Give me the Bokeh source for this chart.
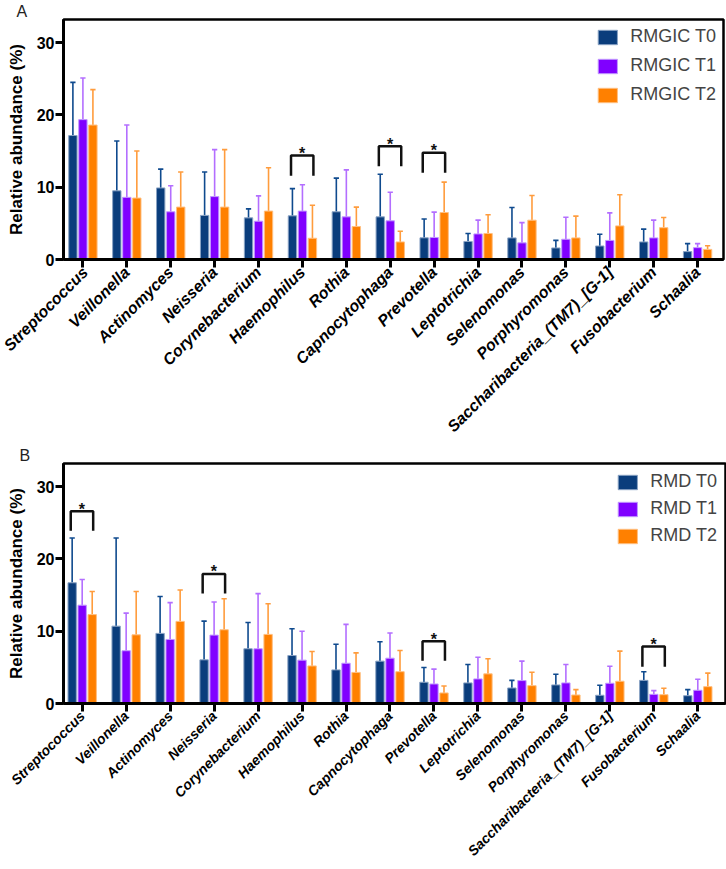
import numpy as np
from bokeh.plotting import figure
from bokeh.models import Range1d, FixedTicker, Legend, LegendItem
from bokeh.layouts import column
from bokeh.embed import file_html
from bokeh.resources import INLINE
from bokeh.core.properties import value

genera = ["Streptococcus", "Veillonella", "Actinomyces", "Neisseria", "Corynebacterium",
          "Haemophilus", "Rothia", "Capnocytophaga", "Prevotella", "Leptotrichia",
          "Selenomonas", "Porphyromonas", "Saccharibacteria_(TM7)_[G-1]", "Fusobacterium", "Schaalia"]

# Panel A (RMGIC) means and SD (upper error bar)
a_t0 = [17.15, 9.5, 9.9, 6.1, 5.76, 6.04, 6.6, 5.9, 3.0, 2.5, 2.99, 1.6, 1.87, 2.43, 1.09]
a_t1 = [19.35, 8.6, 6.6, 8.7, 5.3, 6.7, 5.9, 5.35, 3.05, 3.54, 2.3, 2.8, 2.64, 2.99, 1.64]
a_t2 = [18.6, 8.5, 7.25, 7.25, 6.7, 2.94, 4.56, 2.43, 6.5, 3.6, 5.44, 2.99, 4.65, 4.4, 1.4]
a_t0_sd = [7.35, 6.9, 2.6, 6.0, 1.24, 3.76, 4.65, 5.9, 2.6, 1.1, 4.21, 1.04, 1.63, 1.77, 1.11]
a_t1_sd = [5.75, 10.0, 3.6, 6.5, 3.5, 3.65, 6.5, 3.95, 3.5, 1.9, 2.8, 3.05, 3.81, 2.45, 0.56]
a_t2_sd = [4.9, 6.5, 4.85, 7.95, 6.0, 4.56, 2.69, 1.47, 4.2, 2.6, 3.41, 3.01, 4.31, 1.4, 0.5]

# Panel B (RMD)
b_t0 = [16.7, 10.7, 9.7, 6.04, 7.57, 6.64, 4.65, 5.86, 2.94, 2.85, 2.15, 2.57, 1.14, 3.2, 1.08]
b_t1 = [13.6, 7.3, 8.86, 9.46, 7.57, 6.0, 5.57, 6.27, 2.7, 3.4, 3.17, 2.85, 2.8, 1.27, 1.83]
b_t2 = [12.3, 9.5, 11.36, 10.2, 9.56, 5.2, 4.3, 4.4, 1.46, 4.1, 2.47, 1.18, 3.08, 1.22, 2.33]
b_t0_sd = [6.2, 12.2, 5.1, 5.36, 3.63, 3.71, 3.55, 2.68, 2.04, 2.55, 1.05, 1.48, 1.39, 1.2, 0.84]
b_t1_sd = [3.55, 5.2, 5.1, 4.59, 7.63, 4.0, 5.38, 3.48, 2.05, 3.0, 2.69, 2.55, 2.36, 0.51, 1.53]
b_t2_sd = [3.2, 6.0, 4.34, 4.3, 4.24, 2.0, 2.7, 2.93, 0.97, 2.1, 1.86, 0.74, 4.17, 0.88, 1.87]

# significance brackets: category index, bracket top, leg bottom
a_sig_cat = [5, 7, 8]
a_sig_top = [14.4, 15.66, 14.75]
a_sig_bot = [11.6, 12.9, 12.0]
b_sig_cat = [0, 3, 8, 13]
b_sig_top = [26.6, 17.9, 8.6, 7.9]
b_sig_bot = [23.9, 15.2, 5.9, 5.07]

a_labels = ["RMGIC T0", "RMGIC T1", "RMGIC T2"]
b_labels = ["RMD T0", "RMD T1", "RMD T2"]

FILL = ["#0a3d7c", "#8000ff", "#ff8000"]
EDGE = ["#8aa3c4", "#c199ff", "#ffbf80"]
ERR = ["#0f4a8e", "#b36eff", "#ff9c3d"]
FONT = "Liberation Sans"


def make_panel(letter, labels, means, sds, sig_cat, sig_top, sig_bot, border_left, frame_w,
               x_lo, x_hi, bottom_border, label_size, legend_spacing, legend_margin):
    p = figure(frame_width=frame_w, frame_height=240, output_backend="svg", toolbar_location=None,
               x_range=Range1d(x_lo, x_hi), y_range=Range1d(0, 33.2),
               min_border_left=border_left, min_border_right=726 - border_left - frame_w,
               min_border_top=0, min_border_bottom=bottom_border)
    p.title.text = letter
    p.title.align = "left"
    p.title.offset = 16 - border_left
    p.title.standoff = 0
    p.title.text_font = FONT
    p.title.text_font_size = "16px"
    p.title.text_font_style = "normal"
    p.title.text_color = "#222222"

    p.xgrid.visible = False
    p.ygrid.visible = False
    p.outline_line_color = "black"
    p.outline_line_width = 2.5
    p.background_fill_color = "white"

    offsets = [-0.228, 0.0, 0.228]
    items = []
    for k in range(3):
        xs = [i + offsets[k] for i in range(len(genera))]
        tops = [m + s for m, s in zip(means[k], sds[k])]
        p.segment(x0=xs, y0=means[k], x1=xs, y1=tops, line_color=ERR[k], line_width=1.6)
        p.segment(x0=[x - 0.06 for x in xs], y0=tops, x1=[x + 0.06 for x in xs], y1=tops,
                  line_color=ERR[k], line_width=1.6)
        r = p.vbar(x=xs, top=means[k], bottom=0, width=0.19, fill_color=FILL[k],
                   line_color=EDGE[k], line_width=1)
        items.append(LegendItem(label=labels[k], renderers=[r]))

    bx, by = [], []
    for c, t, b in zip(sig_cat, sig_top, sig_bot):
        bx.append([c - 0.26, c - 0.26, c + 0.25, c + 0.25])
        by.append([b, t, t, b])
    p.multi_line(xs=bx, ys=by, line_color="#111111", line_width=2.5)
    p.text(x=[c - 0.005 for c in sig_cat], y=[t + 0.3 for t in sig_top], text=["*"] * len(sig_cat),
           text_align="center", text_baseline="alphabetic", text_font=value(FONT),
           text_font_size="16px", text_font_style="bold", text_color="#111111")

    legend = Legend(items=items, location="top_right", margin=legend_margin, padding=5,
                    spacing=legend_spacing, glyph_width=24, glyph_height=18, label_height=18,
                    label_standoff=11, label_text_font=FONT, label_text_font_size="18px",
                    border_line_color=None, background_fill_alpha=0)
    p.add_layout(legend, "center")

    p.xaxis.ticker = FixedTicker(ticks=list(range(len(genera))))
    p.xaxis.major_label_overrides = {i: g for i, g in enumerate(genera)}
    p.xaxis.major_label_orientation = np.pi / 4
    p.xaxis.major_label_text_font = FONT
    p.xaxis.major_label_text_font_style = "bold italic"
    p.xaxis.major_label_text_font_size = label_size
    p.xaxis.major_label_text_color = "black"
    p.xaxis.major_label_standoff = 2
    p.xaxis.major_tick_out = 8
    p.xaxis.major_tick_in = 0
    p.xaxis.minor_tick_line_color = None

    p.yaxis.ticker = FixedTicker(ticks=[0, 10, 20, 30])
    p.yaxis.major_label_text_font = FONT
    p.yaxis.major_label_text_font_style = "bold"
    p.yaxis.major_label_text_font_size = "16px"
    p.yaxis.major_label_text_color = "black"
    p.yaxis.major_label_standoff = 1
    p.yaxis.major_tick_out = 8
    p.yaxis.major_tick_in = 0
    p.yaxis.minor_tick_line_color = None
    p.yaxis.axis_label = "Relative abundance (%)"
    p.yaxis.axis_label_text_font = FONT
    p.yaxis.axis_label_text_font_style = "bold"
    p.yaxis.axis_label_text_font_size = "17px"
    p.yaxis.axis_label_text_color = "black"
    p.yaxis.axis_label_standoff = 8

    for ax in (p.xaxis, p.yaxis):
        ax.axis_line_width = 3
        ax.axis_line_color = "black"
        ax.major_tick_line_width = 3
        ax.major_tick_line_color = "black"
    return p


pa = make_panel("A", a_labels, [a_t0, a_t1, a_t2], [a_t0_sd, a_t1_sd, a_t2_sd],
                a_sig_cat, a_sig_top, a_sig_bot, 63, 660, -0.442, 14.59, 170,
                "16px", 8, 7)
pb = make_panel("B", b_labels, [b_t0, b_t1, b_t2], [b_t0_sd, b_t1_sd, b_t2_sd],
                b_sig_cat, b_sig_top, b_sig_bot, 60, 662, -0.425, 14.63, 150,
                "14px", 6, 8)

layout = column(pa, pb, spacing=0)
open("out.html", "w").write(file_html(layout, INLINE))
